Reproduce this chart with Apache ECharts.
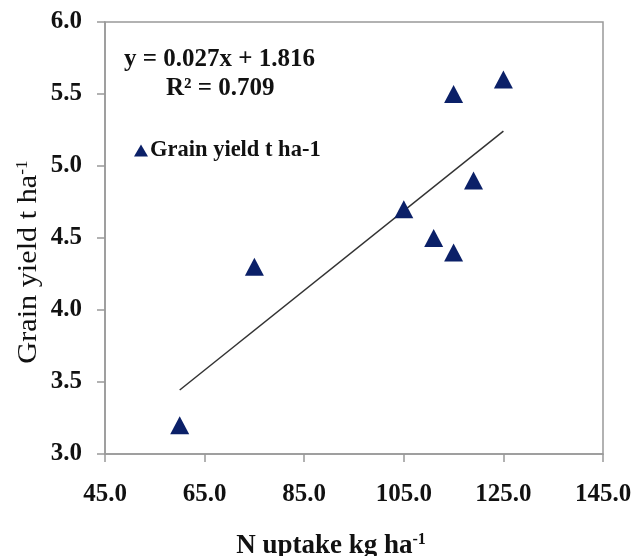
<!DOCTYPE html>
<html><head><meta charset="utf-8">
<script src="https://cdn.jsdelivr.net/npm/echarts@6/dist/echarts.min.js"></script>
<style>html,body{margin:0;padding:0;background:#fff}#c{width:637px;height:556px}</style>
</head><body><div id="c"></div>
<script>
const nUptake = [60, 75, 105, 111, 115, 115, 119, 125];
const grainYield = [3.2, 4.3, 4.7, 4.5, 4.4, 5.5, 4.9, 5.6];
const xTicks = [45, 65, 85, 105, 125, 145];
const equationText = 'y = 0.027x + 1.816';
const r2Text = 'R² = 0.709';
const seriesName = 'Grain yield t ha-1';

// least-squares trendline from the data
const n = nUptake.length;
const mx = nUptake.reduce((a, b) => a + b, 0) / n;
const my = grainYield.reduce((a, b) => a + b, 0) / n;
let sxy = 0, sxx = 0;
for (let i = 0; i < n; i++) { sxy += (nUptake[i] - mx) * (grainYield[i] - my); sxx += (nUptake[i] - mx) ** 2; }
const slope = sxy / sxx, icpt = my - slope * mx;
const xMin = Math.min(...nUptake), xMax = Math.max(...nUptake);
const trend = [[xMin, icpt + slope * xMin], [xMax, icpt + slope * xMax]];

const font = 'Liberation Serif';
const chart = echarts.init(document.getElementById('c'));
chart.setOption({
  animation: false,
  backgroundColor: '#fff',
  grid: { left: 105, right: 34, top: 22, bottom: 102, show: true, borderColor: '#999', borderWidth: 1.5,
    containLabel: false, outerBoundsMode: 'none' },
  legend: {
    left: 129, top: 134, itemWidth: 14, itemHeight: 12, itemGap: 4,
    data: [{ name: seriesName, icon: 'triangle' }],
    textStyle: { fontFamily: font, fontSize: 22.5, color: '#111', fontWeight: 'bold', padding: [0, 0, 0, -3] }
  },
  graphic: [
    { type: 'text', left: 124, top: 47, style: { text: equationText, fontFamily: font, fontSize: 25, fontWeight: 'bold', fill: '#111' } },
    { type: 'text', left: 166, top: 76, style: { text: r2Text, fontFamily: font, fontSize: 25, fontWeight: 'bold', fill: '#111' } },
    { type: 'text', x: 29, y: 262, rotation: Math.PI / 2, scaleX: 1.08,
      style: { text: 'Grain yield t ha{s|-1}', fontFamily: font, fontSize: 28, fill: '#111', align: 'center', verticalAlign: 'middle',
        rich: { s: { fontFamily: font, fontSize: 16, fill: '#111', verticalAlign: 'top', padding: [0, 0, 12, 0] } } } }
  ],
  xAxis: {
    type: 'value', min: 45, max: 145,
    axisLine: { show: true, lineStyle: { color: '#999', width: 1.5 } },
    axisTick: { show: true, length: 8, lineStyle: { color: '#999', width: 1.5 }, customValues: xTicks },
    axisLabel: { customValues: xTicks, margin: 28, fontFamily: font, fontSize: 25, fontWeight: 'bold', color: '#111', formatter: v => v.toFixed(1) },
    splitLine: { show: false },
    name: 'N uptake kg ha{s|-1}', nameLocation: 'middle', nameGap: 78,
    nameTextStyle: { fontFamily: font, fontSize: 27, fontWeight: 'bold', color: '#111', padding: [0, 46, 0, 0],
      rich: { s: { fontFamily: font, fontSize: 16, fontWeight: 'bold', color: '#111', verticalAlign: 'top', padding: [0, 0, 12, 0] } } }
  },
  yAxis: {
    type: 'value', min: 3, max: 6, interval: 0.5,
    axisLine: { show: true, lineStyle: { color: '#999', width: 1.5 } },
    axisTick: { show: true, length: 8, inside: false, lineStyle: { color: '#999', width: 1.5 } },
    axisLabel: { margin: 23, fontFamily: font, fontSize: 25, fontWeight: 'bold', color: '#111', formatter: v => v.toFixed(1) },
    splitLine: { show: false }
  },
  series: [
    { type: 'line', data: trend, symbol: 'none', silent: true, lineStyle: { color: '#333', width: 1.5 }, z: 1 },
    { name: seriesName, type: 'scatter', data: nUptake.map((x, i) => [x, grainYield[i]]),
      symbol: 'triangle', symbolSize: [19, 18], itemStyle: { color: '#0b2068', opacity: 1 }, z: 3 }
  ]
});
</script></body></html>
